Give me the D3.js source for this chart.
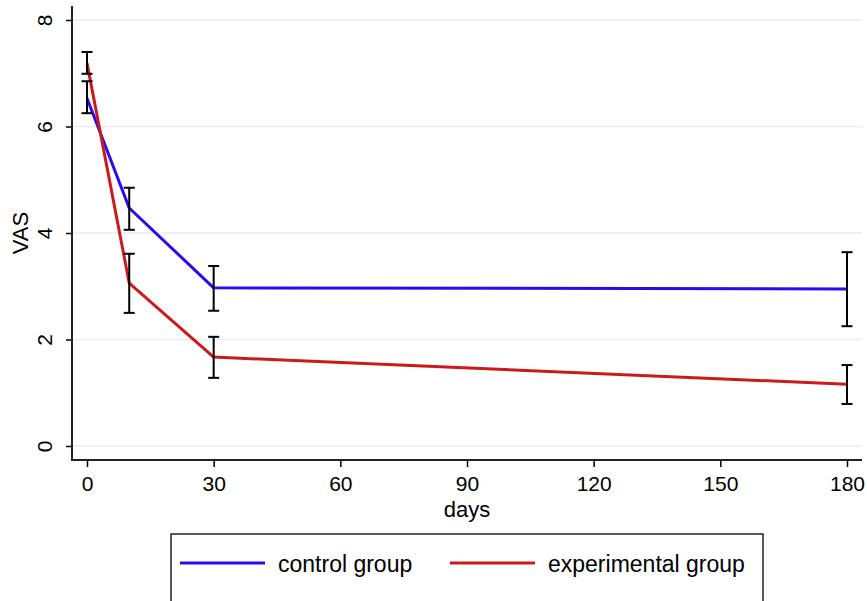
<!DOCTYPE html>
<html><head><meta charset="utf-8">
<script src="https://cdn.jsdelivr.net/npm/d3@7"></script>
<style>body{margin:0;background:#fff;} text{font-family:"Liberation Sans",Arial,Helvetica,sans-serif;fill:#000;}</style>
</head><body>
<svg id="c" width="867" height="601"></svg>
<script>
const days = [0, 10, 30, 180];
const controlMean = [6.53, 4.47, 2.97, 2.95];
const controlLow  = [6.25, 4.06, 2.54, 2.25];
const controlHigh = [6.85, 4.85, 3.38, 3.64];
const expMean = [7.19, 3.06, 1.67, 1.16];
const expLow  = [6.99, 2.50, 1.28, 0.79];
const expHigh = [7.40, 3.61, 2.05, 1.52];
const xTicks = [0, 30, 60, 90, 120, 150, 180];
const yTicks = [0, 2, 4, 6, 8];
const seriesNames = ["control group", "experimental group"];
const colors = ["#2a0aee", "#cc1a1a"];

const svg = d3.select("#c");
const x = d3.scaleLinear().domain([0,180]).range([87,847]);
const y = d3.scaleLinear().domain([0,8]).range([446,20]);
const left = 72, right = 862, bottomY = 460, topY = 6;

// gridlines
svg.append("g").selectAll("line").data(yTicks).join("line")
  .attr("x1", left+1).attr("x2", right).attr("y1", d=>y(d)).attr("y2", d=>y(d))
  .attr("stroke", "#e6edf3").attr("stroke-width", 1.6);

// y axis
const ya = svg.append("g").attr("transform", `translate(${left},0)`)
  .call(d3.axisLeft(y).tickValues(yTicks).tickSize(6).tickFormat(d3.format("d")));
ya.select(".domain").remove();
ya.selectAll(".tick line").attr("stroke", "#000").attr("stroke-width", 1.5);
ya.selectAll(".tick text").attr("transform", "rotate(-90)").attr("x", 0).attr("y", -27)
  .attr("dy", "0.35em").attr("text-anchor", "middle").style("font-size", "21px");
svg.append("line").attr("x1", left).attr("x2", left).attr("y1", topY).attr("y2", bottomY+1)
  .attr("stroke", "#222").attr("stroke-width", 2);

// x axis
const xa = svg.append("g").attr("transform", `translate(0,${bottomY})`)
  .call(d3.axisBottom(x).tickValues(xTicks).tickSize(7).tickFormat(d3.format("d")));
xa.select(".domain").remove();
xa.selectAll(".tick line").attr("stroke", "#000").attr("stroke-width", 1.5);
xa.selectAll(".tick text").attr("y", 16).attr("dy", "0.71em").style("font-size", "21px");
svg.append("line").attr("x1", left-1).attr("x2", right).attr("y1", bottomY).attr("y2", bottomY)
  .attr("stroke", "#222").attr("stroke-width", 2);

// axis titles
svg.append("text").attr("x", (left+right)/2).attr("y", 517).attr("text-anchor", "middle")
  .style("font-size", "22px").text("days");
svg.append("text").attr("transform", `translate(28,${y(4)}) rotate(-90)`).attr("text-anchor", "middle")
  .style("font-size", "22px").text("VAS");

// lines
const series = [
  {mean: controlMean, low: controlLow, high: controlHigh},
  {mean: expMean, low: expLow, high: expHigh}
];
const line = d3.line().x(d=>x(d[0])).y(d=>y(d[1]));
series.forEach((s,i)=>{
  svg.append("path").datum(days.map((d,j)=>[d, s.mean[j]]))
    .attr("d", line).attr("fill","none").attr("stroke", colors[i]).attr("stroke-width", 3)
    .attr("stroke-linejoin","round");
});
// error bars
const cap = 5.5;
series.forEach((s,i)=>{
  const g = svg.append("g").attr("stroke","#000").attr("stroke-width",2).attr("fill","none");
  days.forEach((d,j)=>{
    const cx = x(d);
    g.append("line").attr("x1",cx).attr("x2",cx).attr("y1",y(s.low[j])).attr("y2",y(s.high[j]));
    g.append("line").attr("x1",cx-cap).attr("x2",cx+cap).attr("y1",y(s.low[j])).attr("y2",y(s.low[j]));
    g.append("line").attr("x1",cx-cap).attr("x2",cx+cap).attr("y1",y(s.high[j])).attr("y2",y(s.high[j]));
  });
});

// legend
svg.append("rect").attr("x",171).attr("y",534).attr("width",592).attr("height",80)
  .attr("fill","#fff").attr("stroke","#222").attr("stroke-width",1.5);
const legX = [[180, 265, 278], [450, 535, 548]];
seriesNames.forEach((n,i)=>{
  svg.append("line").attr("x1",legX[i][0]).attr("x2",legX[i][1]).attr("y1",563).attr("y2",563)
    .attr("stroke",colors[i]).attr("stroke-width",3);
  svg.append("text").attr("x",legX[i][2]).attr("y",572).style("font-size","23px").text(n);
});
</script>
</body></html>
